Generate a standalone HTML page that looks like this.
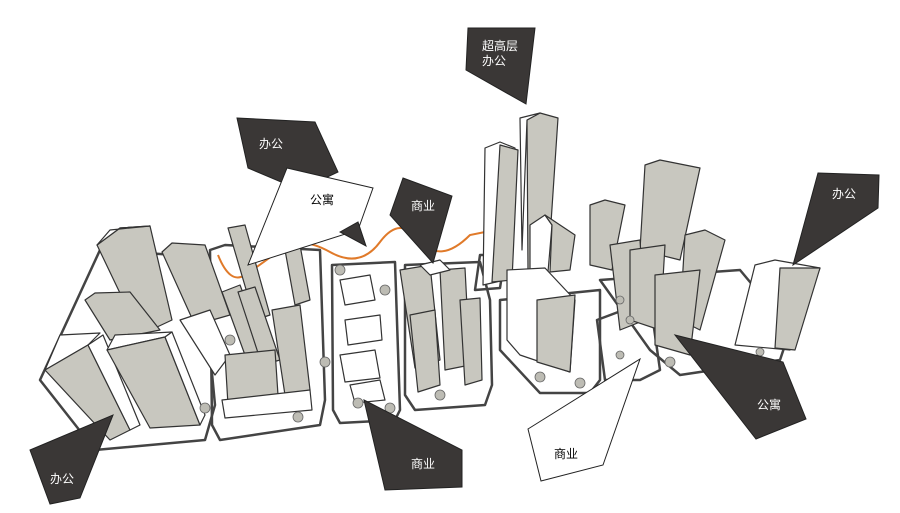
<!DOCTYPE html>
<html><head><meta charset="utf-8"><style>
html,body{margin:0;padding:0;background:#fff;}
svg{display:block}
text{font-family:"Liberation Sans","Noto Sans CJK SC",sans-serif;font-size:12px;}
</style></head><body>
<svg width="900" height="513" viewBox="0 0 900 513" xmlns="http://www.w3.org/2000/svg">
<g fill="none" stroke="#444" stroke-width="2.5" stroke-linejoin="round">
<path d="M40,380 L95,450 L205,440 L215,405 L205,300 L175,255 L100,250 Z"/>
<path d="M210,250 L225,245 L320,250 L325,400 L320,425 L220,440 L212,425 Z"/>
<path d="M332,265 L395,262 L400,410 L395,420 L340,423 L333,410 Z"/>
<path d="M405,265 L480,262 L490,300 L492,385 L485,405 L415,410 L405,395 Z"/>
<path d="M475,290 L500,288 L505,255 L480,255 Z"/>
<path d="M500,300 L600,290 L600,380 L590,393 L540,393 L500,350 Z"/>
<path d="M597,320 L650,300 L660,370 L640,380 L605,380 Z"/>
<path d="M600,280 L740,270 L790,330 L780,360 L680,375 L650,350 Z"/>
</g>
<path d="M218,255 Q230,285 245,275 T280,250 T330,252 T380,242 T420,240 T470,235 L485,232" fill="none" stroke="#e07a2a" stroke-width="2"/>
<g stroke="#333" stroke-width="1.2" stroke-linejoin="round">
<polygon points="97,245 120,228 150,226 172,320 140,335" fill="#c8c7bf"/>
<polygon points="97,245 110,230 150,226 120,228" fill="#fff"/>
<polygon points="162,252 172,243 205,245 230,315 195,325" fill="#c8c7bf"/>
<polygon points="85,300 95,293 130,292 160,330 110,340" fill="#c8c7bf"/>
<polygon points="180,320 210,310 230,355 215,375" fill="#fff"/>
<polygon points="45,370 60,335 100,333 88,345" fill="#fff"/>
<polygon points="45,370 88,345 130,430 110,440" fill="#c8c7bf"/>
<polygon points="88,345 103,335 140,425 130,430" fill="#fff"/>
<polygon points="107,350 115,335 172,332 165,337" fill="#fff"/>
<polygon points="107,350 165,337 200,425 150,428" fill="#c8c7bf"/>
<polygon points="165,337 172,332 205,415 200,425" fill="#fff"/>
<polygon points="228,228 245,225 270,315 255,320" fill="#c8c7bf"/>
<polygon points="222,292 240,285 265,350 245,355" fill="#c8c7bf"/>
<polygon points="238,292 255,287 280,360 262,365" fill="#c8c7bf"/>
<polygon points="272,310 300,305 310,390 285,395" fill="#c8c7bf"/>
<polygon points="285,250 300,245 310,300 295,305" fill="#c8c7bf"/>
<polygon points="225,355 275,350 278,395 228,405" fill="#c8c7bf"/>
<polygon points="222,400 310,390 312,410 225,418" fill="#fff"/>
<polygon points="340,280 370,275 375,300 345,305" fill="#fff"/>
<polygon points="345,320 380,315 382,340 348,345" fill="#fff"/>
<polygon points="340,355 375,350 380,378 345,382" fill="#fff"/>
<polygon points="350,385 380,380 385,400 355,403" fill="#fff"/>
<polygon points="400,270 430,265 440,360 415,368" fill="#c8c7bf"/>
<polygon points="440,270 465,268 470,365 445,370" fill="#c8c7bf"/>
<polygon points="410,315 435,310 440,385 418,392" fill="#c8c7bf"/>
<polygon points="460,300 480,298 482,380 465,385" fill="#c8c7bf"/>
<polygon points="420,265 440,260 450,270 430,275" fill="#fff"/>
<polygon points="485,148 500,142 515,148 505,280 483,285" fill="#fff"/>
<polygon points="500,145 518,150 512,280 492,282" fill="#c8c7bf"/>
<polygon points="527,120 540,113 558,118 548,268 528,272" fill="#c8c7bf"/>
<polygon points="520,118 540,113 527,120 522,250" fill="#fff"/>
<polygon points="530,225 545,215 552,225 548,272 530,272" fill="#fff"/>
<polygon points="545,215 575,235 570,270 550,272 552,225" fill="#c8c7bf"/>
<polygon points="507,270 545,268 575,300 570,372 520,355 507,340" fill="#fff"/>
<polygon points="537,300 575,295 570,372 537,362" fill="#c8c7bf"/>
<polygon points="590,205 605,200 625,205 612,270 590,265" fill="#c8c7bf"/>
<polygon points="645,165 660,160 700,168 680,260 640,250" fill="#c8c7bf"/>
<polygon points="610,245 640,240 645,320 620,330" fill="#c8c7bf"/>
<polygon points="630,250 665,245 660,330 630,320" fill="#c8c7bf"/>
<polygon points="685,235 705,230 725,240 700,330 680,320" fill="#c8c7bf"/>
<polygon points="655,275 700,270 690,355 655,345" fill="#c8c7bf"/>
<polygon points="755,265 775,260 820,268 790,350 735,345" fill="#fff"/>
<polygon points="780,268 820,268 795,350 775,348" fill="#c8c7bf"/>
</g>
<g fill="#bdbcb4" stroke="#666" stroke-width="0.8">
<circle cx="205" cy="408" r="5"/><circle cx="298" cy="417" r="5"/><circle cx="358" cy="403" r="5"/><circle cx="390" cy="408" r="5"/>
<circle cx="440" cy="395" r="5"/><circle cx="540" cy="377" r="5"/><circle cx="580" cy="383" r="5"/><circle cx="620" cy="355" r="4"/>
<circle cx="670" cy="362" r="5"/><circle cx="760" cy="352" r="4"/><circle cx="325" cy="362" r="5"/><circle cx="230" cy="340" r="5"/>
<circle cx="340" cy="270" r="5"/><circle cx="385" cy="290" r="5"/><circle cx="620" cy="300" r="4"/><circle cx="630" cy="320" r="4"/>
</g>
<g stroke="#222" stroke-width="1">
<polygon points="237,118 315,122 338,172 300,190 248,168" fill="#3a3736"/>
<polygon points="287,168 373,188 358,230 248,265" fill="#fff"/>
<polygon points="340,232 358,222 366,246" fill="#3a3736"/>
<polygon points="403,178 452,196 433,263 390,215" fill="#3a3736"/>
<polygon points="468,28 535,28 526,104 466,70" fill="#3a3736"/>
<polygon points="818,173 879,175 878,208 793,265" fill="#3a3736"/>
<polygon points="675,335 783,362 806,419 756,439" fill="#3a3736"/>
<polygon points="30,450 113,415 80,498 50,504" fill="#3a3736"/>
<polygon points="364,400 462,450 462,487 385,490" fill="#3a3736"/>
<polygon points="528,429 640,359 603,465 541,481" fill="#fff"/>
</g>
<g fill="#fff">
<text x="259" y="148">办公</text>
<text x="411" y="210">商业</text>
<text x="482" y="50">超高层</text>
<text x="482" y="65">办公</text>
<text x="832" y="198">办公</text>
<text x="757" y="409">公寓</text>
<text x="50" y="483">办公</text>
<text x="411" y="468">商业</text>
</g>
<g fill="#000">
<text x="310" y="204">公寓</text>
<text x="554" y="458">商业</text>
</g>
</svg>
</body></html>
